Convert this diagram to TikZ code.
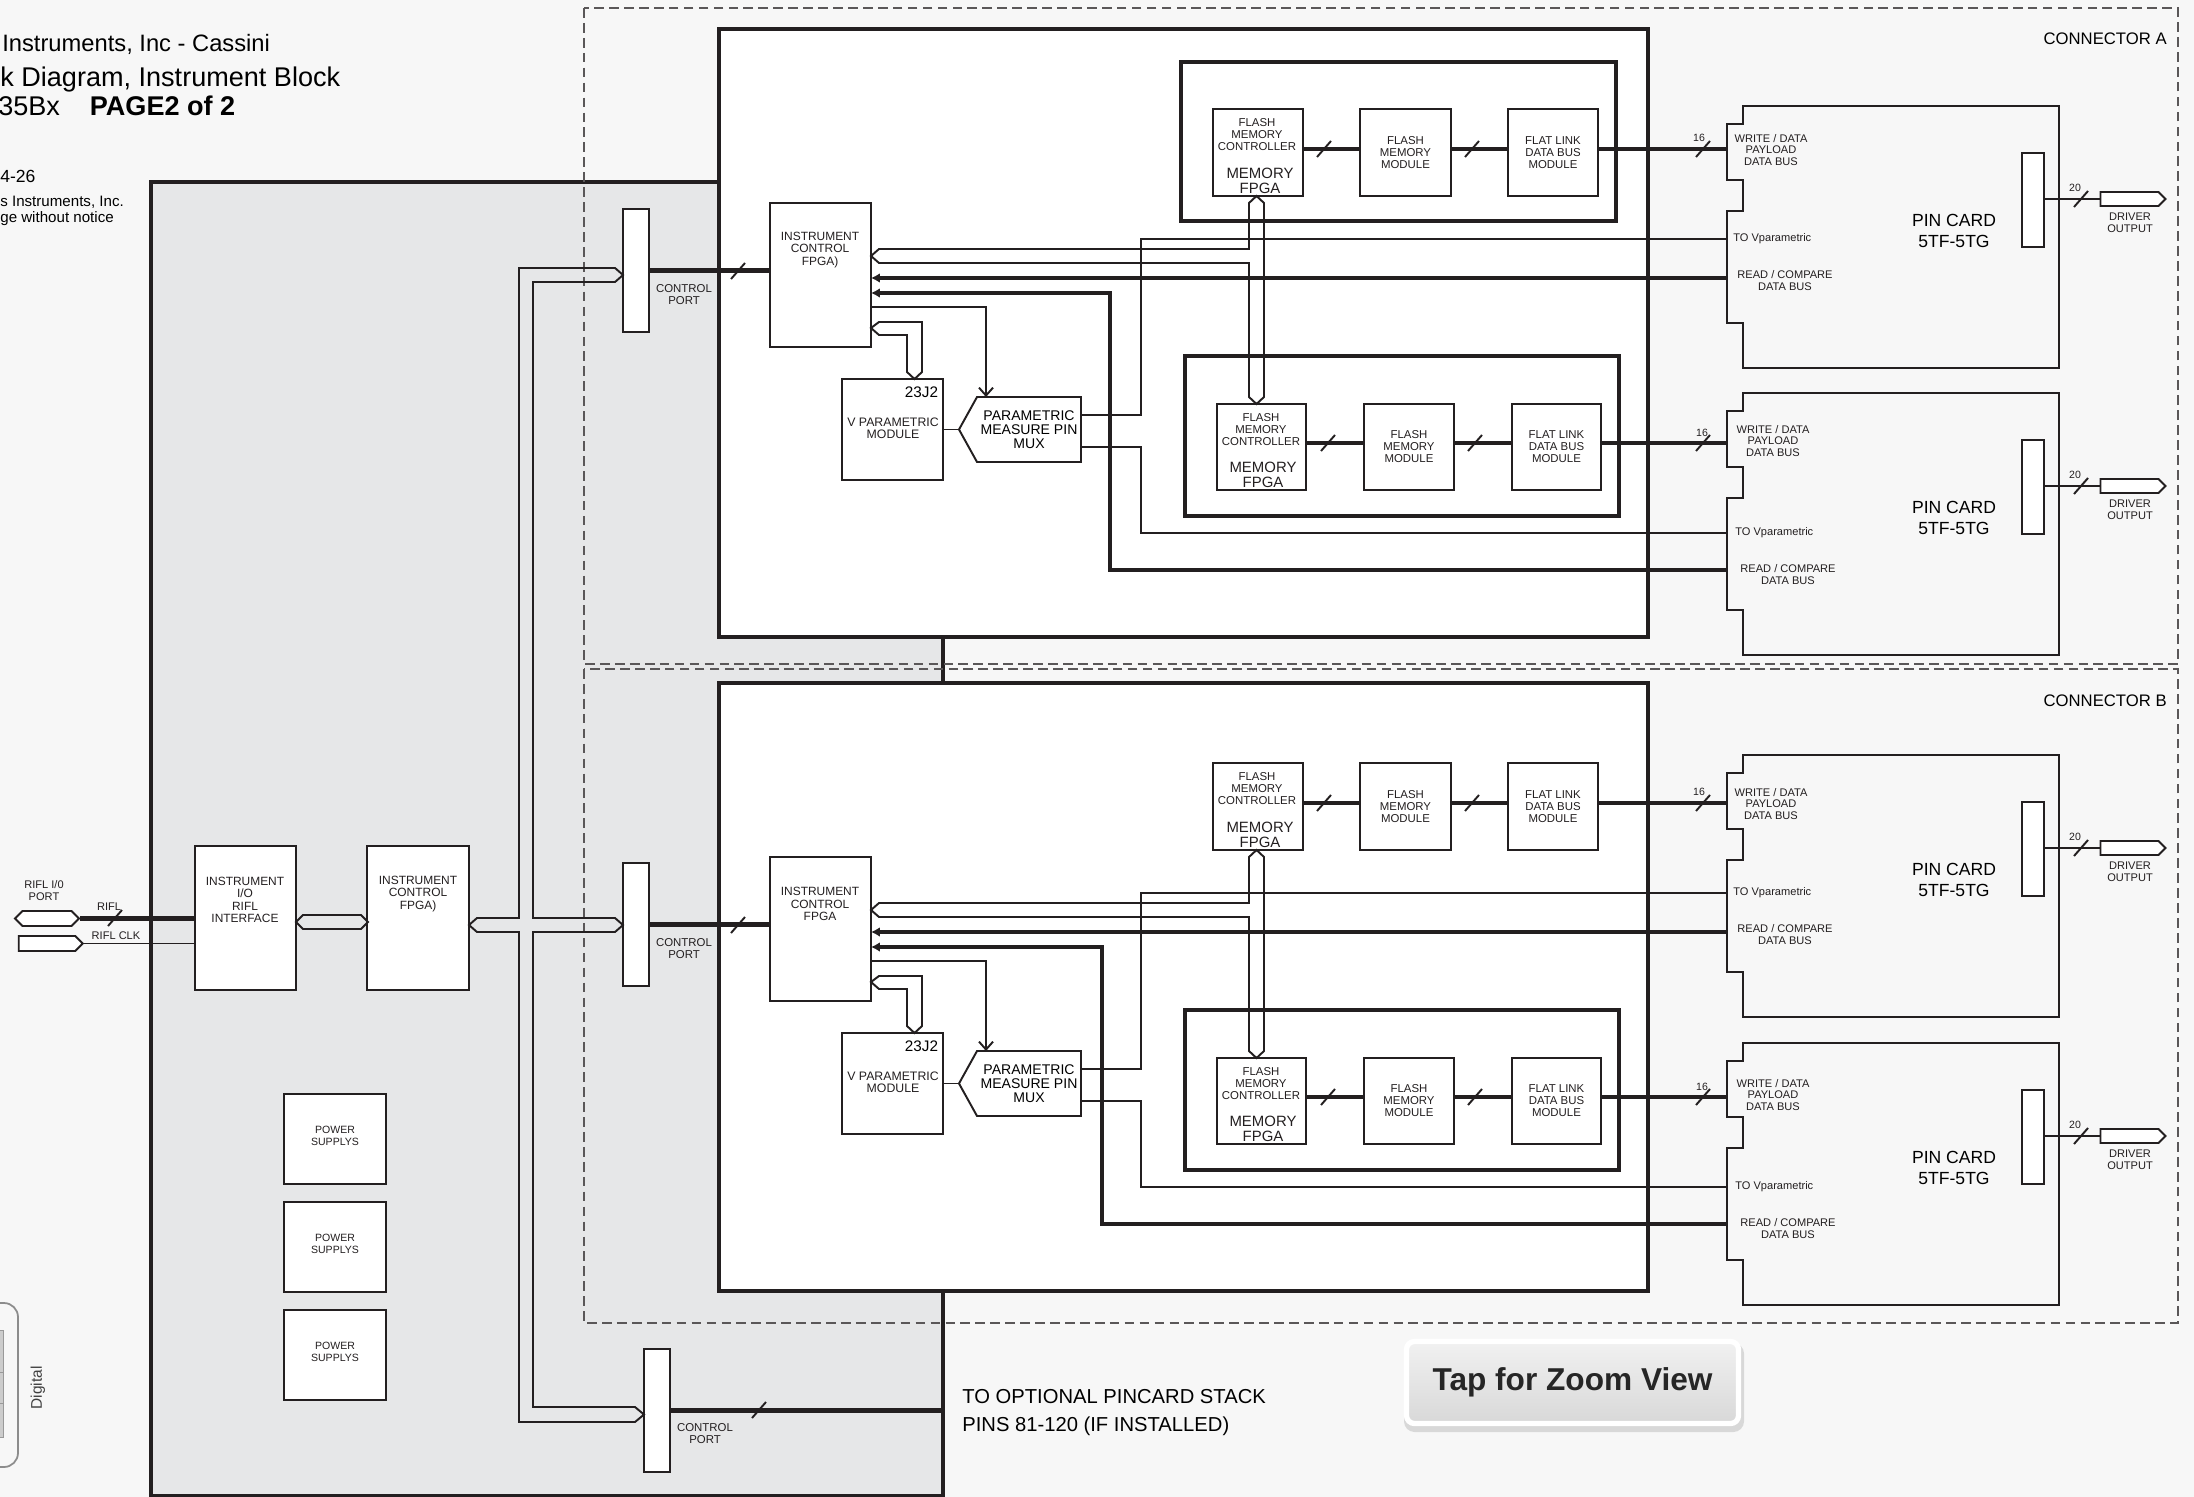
\documentclass[tikz,border=0pt]{standalone}
\usepackage{fontspec}
\setmainfont{Liberation Sans}
\usetikzlibrary{arrows.meta, shapes.symbols}
\definecolor{Ink}{HTML}{231F20}
\definecolor{PanelGray}{HTML}{E6E7E8}
\definecolor{PageGray}{HTML}{F7F7F7}
\definecolor{BtnTop}{HTML}{F1F1F1}
\definecolor{BtnBottom}{HTML}{D8D8D8}
\newcommand{\lblfont}{\fontsize{6.8pt}{7pt}\selectfont}
\newcommand{\pinfont}{\fontsize{6.3pt}{6.8pt}\selectfont}
\newcommand{\memfont}{\fontsize{6.5pt}{6.8pt}\selectfont}
\newcommand{\busslash}[1]{\draw[wire] (#1) ++(-7,8) -- ++(14,-16);}

\begin{document}
\begin{tikzpicture}[
    x=0.02cm, y=-0.02cm,
    sz/.style 2 args={minimum width=#1*0.02cm, minimum height=#2*0.02cm},
    box/.style={draw=Ink, line width=1.1pt, fill=white, inner sep=0pt, outer sep=0pt},
    mainbox/.style={draw=Ink, line width=2.5pt, fill=white, inner sep=0pt, outer sep=0pt},
    memframe/.style={draw=Ink, line width=2pt},
    txt/.style={font=\lblfont, align=center, inner sep=0pt, text=Ink},
    wire/.style={draw=Ink, line width=1.1pt},
    bus/.style={draw=Ink, line width=2.6pt},
    hollow/.style={draw=Ink, line width=1.1pt},
    zone/.style={draw=Ink!75, line width=0.8pt, dash pattern=on 5.5pt off 3pt},
    into/.style={-{Latex[length=5pt, width=5.5pt]}},
    ctl/.style={-{Straight Barb[length=4.5pt, width=8pt]}},
    tag/.style={font=\fontsize{6pt}{6pt}\selectfont, inner sep=0pt, text=Ink}
]

\useasboundingbox (0,0) rectangle (2194,1497);
\fill[PageGray] (0,0) rectangle (2194,1497);

% title block
\node[anchor=base west, inner sep=0pt, font=\fontsize{13.5pt}{16pt}\selectfont] (title1) at (2,52) {Instruments, Inc - Cassini};
\node[anchor=base west, inner sep=0pt, font=\fontsize{15.4pt}{16pt}\selectfont] (title2) at (0,87) {k Diagram, Instrument Block};
\node[anchor=base west, inner sep=0pt, font=\fontsize{15.4pt}{16pt}\selectfont] (title3) at (-2,115) {35Bx\hspace{17pt}\textbf{PAGE2 of 2}};
\node[anchor=base west, inner sep=0pt, font=\fontsize{10pt}{12pt}\selectfont] (date) at (0,182) {4-26};
\node[anchor=base west, inner sep=0pt, align=left, font=\fontsize{8.6pt}{9pt}\selectfont] (legal) at (0,222) {s Instruments, Inc.\\ge without notice};

% instrument panel
\node[draw=Ink, line width=2.3pt, fill=PanelGray, inner sep=0pt, sz={792}{1314}] (panel) at (547,839) {};

% connector zones
\draw[zone] (584,8) rectangle (2178,664);
\draw[zone] (584,669) rectangle (2178,1323);
\node[anchor=east, inner sep=0pt, font=\fontsize{9.5pt}{10pt}\selectfont] (conn-a) at (2167,39) {CONNECTOR A};
\node[anchor=east, inner sep=0pt, font=\fontsize{9.5pt}{10pt}\selectfont] (conn-b) at (2167,701) {CONNECTOR B};

% pin cards
\foreach \c/\T in {a1/106, a2/393, b1/755, b2/1043}{
  \draw[wire, fill=PageGray] (1743,\T) -- (2059,\T) -- (2059,\T+262) -- (1743,\T+262) -- (1743,\T+217)
    -- (1727,\T+217) -- (1727,\T+105) -- (1743,\T+105) -- (1743,\T+74) -- (1727,\T+74) -- (1727,\T+18)
    -- (1743,\T+18) -- cycle;
  \coordinate (card-\c) at (1727,\T);
  \node[align=center, inner sep=0pt, font=\fontsize{10pt}{12pt}\selectfont] (card-\c-name) at (1954,\T+125) {PIN CARD\\5TF-5TG};
  \node[box, sz={22}{94}] (card-\c-conn) at (2033,\T+94) {};
  \node[hollow, fill=white, shape=signal, signal to=east, inner sep=0pt, sz={65}{14}] (card-\c-drv) at (2129.5,\T+93) {};
  \draw[wire] (card-\c-conn.east |- card-\c-drv.west) -- (card-\c-drv.west);
  \busslash{2081,\T+93}
  \node[tag] at (2075,\T+82) {20};
  \node[txt, font=\pinfont] at (2130,\T+117) {DRIVER\\OUTPUT};
}

% the two instrument blocks
\foreach \blk/\dy/\ftxt/\tx in {a/0/FPGA)/1110, b/654/FPGA/1102}{
\begin{scope}[yshift=-\dy*0.02cm]
  \node[mainbox, sz={929}{608}] (\blk-main) at (1183.5,333) {};

  \node[box, sz={26}{123}] (\blk-port) at (636,270.5) {};
  \node[txt, font=\memfont] at (684,295) {CONTROL\\PORT};

  \node[box, sz={101}{144}] (\blk-fpga) at (820.5,275) {};
  \node[txt] at (820,250) {INSTRUMENT\\CONTROL\\\ftxt};

  \node[box, sz={101}{101}] (\blk-vpm) at (892.5,429.5) {};
  \node[inner sep=0pt, font=\fontsize{8.7pt}{9pt}\selectfont] at (921.5,392) {23J2};
  \node[txt, font=\fontsize{7pt}{6.8pt}\selectfont] at (893,428) {V PARAMETRIC\\MODULE};

  \node[box, shape=signal, signal to=west, signal pointer angle=122, sz={122}{65},
        align=center, font=\fontsize{8pt}{8pt}\selectfont] (\blk-mux) at (1029,429.5) {PARAMETRIC\\MEASURE PIN\\MUX};

  \node[box, sz={90}{87}] (\blk-mc1) at (1258,152.5) {};
  \node[txt, font=\memfont] at (1257,135) {FLASH\\MEMORY\\CONTROLLER};
  \node[txt, font=\fontsize{8.5pt}{8.5pt}\selectfont] at (1260,181) {MEMORY\\FPGA};
  \node[box, txt, font=\memfont, sz={91}{87}] (\blk-fm1) at (1405.5,152.5) {FLASH\\MEMORY\\MODULE};
  \node[box, txt, font=\memfont, sz={90}{87}] (\blk-fl1) at (1553,152.5) {FLAT LINK\\DATA BUS\\MODULE};

  \draw[memframe] (1185,356) rectangle (1619,516);
  \node[box, sz={89}{86}] (\blk-mc2) at (1261.5,447) {};
  \node[txt, font=\memfont] at (1261,430) {FLASH\\MEMORY\\CONTROLLER};
  \node[txt, font=\fontsize{8.5pt}{8.5pt}\selectfont] at (1263,475) {MEMORY\\FPGA};
  \node[box, txt, font=\memfont, sz={90}{86}] (\blk-fm2) at (1409,447) {FLASH\\MEMORY\\MODULE};
  \node[box, txt, font=\memfont, sz={89}{86}] (\blk-fl2) at (1556.5,447) {FLAT LINK\\DATA BUS\\MODULE};

  % control port into the FPGA
  \draw[bus] (\blk-port.east) -- (\blk-port.east -| \blk-fpga.west);
  \busslash{738,271}

  % memory bus between the FPGA and both memory FPGAs
  \draw[hollow] (\blk-fpga.east |- 0,256) -- (879,249) -- (1249,249) -- (1249,203) -- (\blk-mc1.south -| 1256.5,0)
    -- (1264,203) -- (1264,397) -- (\blk-mc2.north -| 1256.5,0) -- (1249,397) -- (1249,263) -- (879,263) -- cycle;

  % read / compare buses back into the FPGA
  \draw[bus, into] (card-\blk1 |- 0,278) -- (\blk-fpga.east |- 0,278);
  \draw[bus, into] (card-\blk2 |- 0,570) -- (\tx,570) -- (\tx,293) -- (\blk-fpga.east |- 0,293);

  % FPGA to parametric parts
  \draw[wire, ctl] (\blk-fpga.east |- 0,307) -- (986,307) -- (986,0 |- \blk-mux.north);
  \draw[hollow] (\blk-fpga.east |- 0,328) -- (879,322) -- (922,322) -- (922,372) -- (\blk-vpm.north -| 914.5,0)
    -- (907,372) -- (907,335) -- (879,335) -- cycle;
  \draw[wire] (\blk-vpm.east) -- (\blk-mux.west);
  \draw[wire] (\blk-mux.east |- 0,415) -- (1141,415) -- (1141,239) -- (card-\blk1 |- 0,239);
  \draw[wire] (\blk-mux.east |- 0,447) -- (1141,447) -- (1141,533) -- (card-\blk2 |- 0,533);

  % write / data chains
  \draw[bus] (\blk-mc1.east |- 0,149) -- (\blk-fm1.west |- 0,149);
  \draw[bus] (\blk-fm1.east |- 0,149) -- (\blk-fl1.west |- 0,149);
  \draw[bus] (\blk-fl1.east |- 0,149) -- (card-\blk1 |- 0,149);
  \busslash{1324,149}
  \busslash{1472,149}
  \busslash{1703,149}
  \node[tag] at (1699,138) {16};
  \draw[bus] (\blk-mc2.east |- 0,443) -- (\blk-fm2.west |- 0,443);
  \draw[bus] (\blk-fm2.east |- 0,443) -- (\blk-fl2.west |- 0,443);
  \draw[bus] (\blk-fl2.east |- 0,443) -- (card-\blk2 |- 0,443);
  \busslash{1328,443}
  \busslash{1475,443}
  \busslash{1703,443}
  \node[tag] at (1702,433) {16};

  % pin card signal names
  \node[txt, font=\pinfont] at (1771,150) {WRITE / DATA\\PAYLOAD\\DATA BUS};
  \node[txt, font=\pinfont, anchor=west] at (1733,239) {TO Vparametric};
  \node[txt, font=\pinfont] at (1785,281) {READ / COMPARE\\DATA BUS};
  \node[txt, font=\pinfont] at (1773,441) {WRITE / DATA\\PAYLOAD\\DATA BUS};
  \node[txt, font=\pinfont, anchor=west] at (1735,533) {TO Vparametric};
  \node[txt, font=\pinfont] at (1788,575) {READ / COMPARE\\DATA BUS};
\end{scope}
}
\draw[memframe] (1181,62) rectangle (1616,221);

% left side of the panel
\node[box, sz={101}{144}] (iobox) at (245.5,918) {};
\node[txt] at (245,900) {INSTRUMENT\\I/O\\RIFL\\INTERFACE};
\node[box, sz={102}{144}] (lfpga) at (418,918) {};
\node[txt] at (418,894) {INSTRUMENT\\CONTROL\\FPGA)};
\node[hollow, shape=signal, signal to=east and west, inner sep=0pt, sz={72}{14}] (iobus) at (332,922) {};

\node[txt, font=\pinfont] at (44,891) {RIFL I/0\\PORT};
\node[hollow, fill=white, shape=signal, signal to=east and west, inner sep=0pt, sz={64}{15}] (riflport) at (47,918.5) {};
\node[hollow, fill=white, shape=signal, signal to=east, inner sep=0pt, sz={64}{15}] (riflclk) at (47,943.5) {};
\draw[bus] (riflport.east) -- (iobox.west |- riflport.east);
\busslash{115,918}
\node[txt, font=\pinfont] at (109,907) {RIFL};
\draw[wire] (riflclk.east) -- (iobox.west |- riflclk.east);
\node[txt, font=\pinfont] at (116,936) {RIFL CLK};

\foreach \i/\py in {1/1139, 2/1247, 3/1355}{
  \node[box, sz={102}{90}] (pwr\i) at (335,\py) {};
  \node[txt, font=\fontsize{6pt}{6.8pt}\selectfont] at (335,\py-3) {POWER\\SUPPLYS};
}

\node[box, sz={26}{123}] (port-c) at (657,1410.5) {};
\node[txt, font=\memfont] at (705,1433.5) {CONTROL\\PORT};

% control bus from the panel FPGA to the three control ports
\draw[hollow] (a-port.west |- 0,275) -- (615,268) -- (519,268) -- (519,918) -- (477,918) -- (lfpga.east |- 0,925)
  -- (477,932) -- (519,932) -- (519,1422) -- (635,1422) -- (port-c.west |- 0,1414.5) -- (635,1407)
  -- (533,1407) -- (533,932) -- (615,932) -- (b-port.west |- 0,925) -- (615,918) -- (533,918)
  -- (533,282) -- (615,282) -- cycle;

\draw[bus] (port-c.east) -- (port-c.east -| panel.east);
\busslash{759,1410}
\node[anchor=base west, align=left, inner sep=0pt, font=\fontsize{11.5pt}{15.9pt}\selectfont] (stack) at (962,1431) {TO OPTIONAL PINCARD STACK\\PINS 81-120 (IF INSTALLED)};

% edge widget
\draw[black!45, line width=1pt, rounded corners=8] (-30,1303) rectangle (18,1467);
\draw[black!40, fill=black!20] (-20,1330) rectangle (3,1437);
\draw[black!40] (-20,1372) -- (3,1372) (-20,1403) -- (3,1403);
\node[rotate=90, inner sep=0pt, text=black!75, font=\fontsize{8.8pt}{9pt}\selectfont] (digital) at (38,1388) {Digital};

% zoom button
\fill[black, opacity=0.12, rounded corners=6pt] (1404,1343) rectangle (1744,1432);
\node[draw=white, line width=3pt, rounded corners=4.5pt, top color=BtnTop, bottom color=BtnBottom,
      sz={332}{82}, text=black!85, font=\bfseries\fontsize{18pt}{18pt}\selectfont] (zoombtn) at (1572.5,1382.5) {Tap for Zoom View};

\end{tikzpicture}
\end{document}
